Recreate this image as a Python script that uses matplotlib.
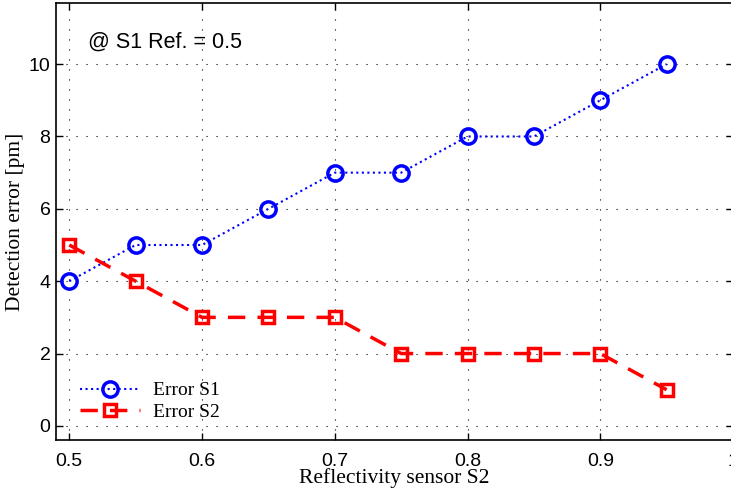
import numpy as np
import matplotlib
matplotlib.use('Agg')
import matplotlib.pyplot as plt

# reflectivity of sensor S2 and detection errors in pm
refl = [0.5, 0.55, 0.6, 0.65, 0.7, 0.75, 0.8, 0.85, 0.9, 0.95]
err_s1 = [4, 5, 5, 6, 7, 7, 8, 8, 9, 10]
err_s2 = [5, 4, 3, 3, 3, 2, 2, 2, 2, 1]
xticks = [0.5, 0.6, 0.7, 0.8, 0.9, 1.0]
xtick_labels = ['0.5', '0.6', '0.7', '0.8', '0.9', '1']
yticks = [0, 2, 4, 6, 8, 10]

sans = ['Liberation Sans', 'DejaVu Sans']
serif = ['Liberation Serif', 'DejaVu Serif']

fig = plt.figure(figsize=(7.31, 4.90), dpi=100)
ax = fig.add_axes([56 / 731, 50 / 490, 677 / 731, 437 / 490])

ax.plot(refl, err_s1, color='blue', linestyle=':', linewidth=1.5,
        marker='o', markersize=11, markeredgewidth=2.5,
        markerfacecolor='none', markeredgecolor='blue', label='Error S1')
ax.plot(refl, err_s2, color='red', linestyle=(0, (5, 3.5)), linewidth=2.5,
        marker='s', markersize=9, markeredgewidth=2.5,
        markerfacecolor='none', markeredgecolor='red', label='Error S2')

ax.set_xlim(0.49, 1.0)
ax.set_ylim(-0.39, 11.69)
ax.set_xticks(xticks)
ax.set_xticklabels(xtick_labels, fontfamily=sans, fontsize=14)
ax.set_yticks(yticks)
ax.set_yticklabels([str(v) for v in yticks], fontfamily=sans, fontsize=14)
ax.tick_params(direction='in', length=5, width=1, top=True, right=True)
ax.tick_params(axis='x', pad=9)
ax.tick_params(axis='y', pad=4)
ax.grid(True, color='black', linestyle=(0, (1, 8)), linewidth=0.8)
for s in ax.spines.values():
    s.set_linewidth(1.2)

ax.set_xlabel('Reflectivity sensor S2', fontfamily=serif, fontsize=15.5, labelpad=-1)
ax.set_ylabel('Detection error [pm]', fontfamily=serif, fontsize=15.5, labelpad=3)

ax.text(0.514, 10.6, '@ S1 Ref. = 0.5', fontfamily=sans, fontsize=15.5,
        va='center', ha='left')

ax.legend(loc='lower left', bbox_to_anchor=(0.024, 0.026), frameon=False,
          prop={'family': serif, 'size': 14}, handlelength=3.1,
          handletextpad=0.67, labelspacing=0.2, borderaxespad=0.0)

fig.savefig('out.png', dpi=100)
